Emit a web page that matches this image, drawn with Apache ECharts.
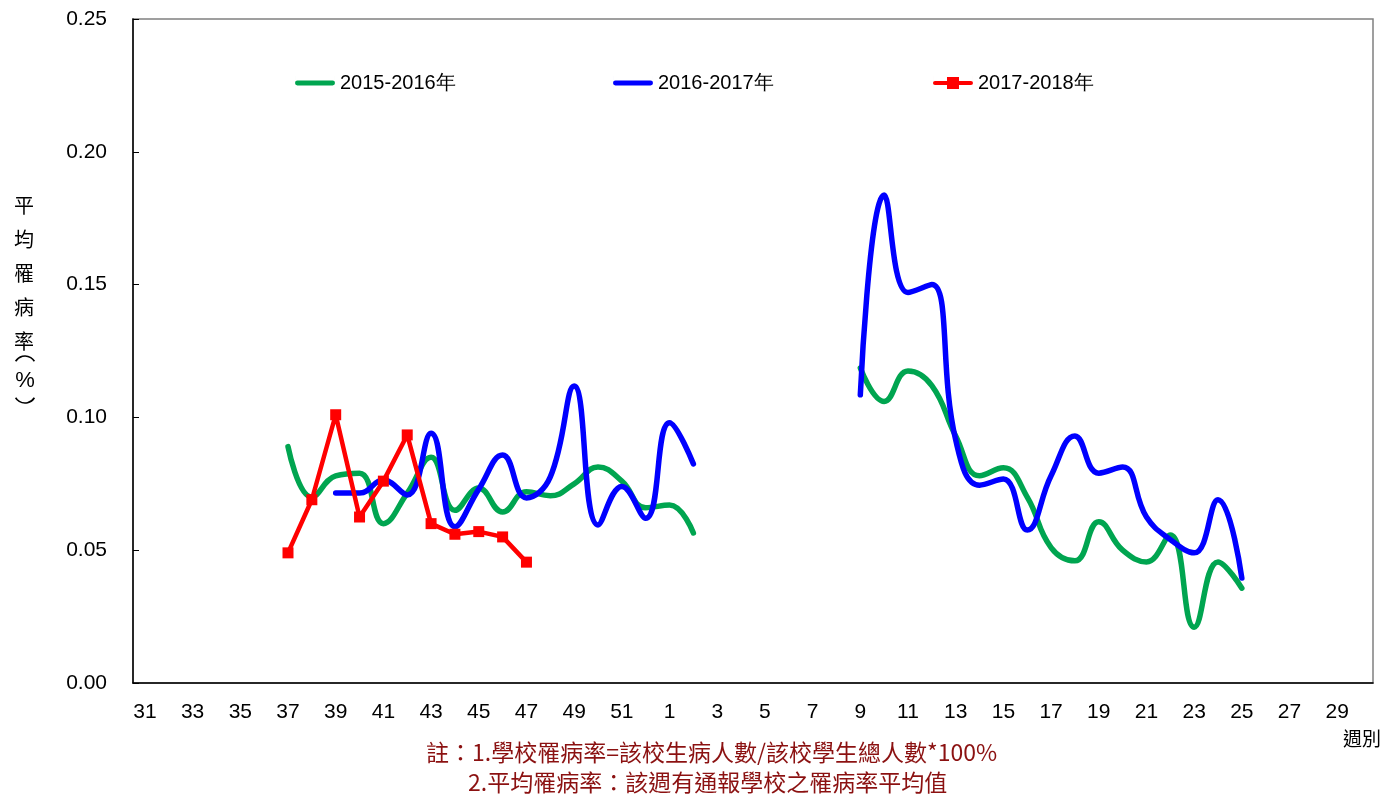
<!DOCTYPE html>
<html>
<head>
<meta charset="utf-8">
<script src="https://cdn.jsdelivr.net/npm/echarts@6/dist/echarts.min.js"></script>
<style>html,body{margin:0;padding:0;background:#fff;}#c{width:1384px;height:796px;}</style>
</head>
<body>
<div id="c"></div>
<script>
// Week categories: 31..52 then 1..30
const weeks = [31,32,33,34,35,36,37,38,39,40,41,42,43,44,45,46,47,48,49,50,51,52,
  1,2,3,4,5,6,7,8,9,10,11,12,13,14,15,16,17,18,19,20,21,22,23,24,25,26,27,28,29,30];
const yTicks = [0, 0.05, 0.10, 0.15, 0.20, 0.25];

// 2015-2016 (green): weeks 37..52,1,2 and weeks 9..25
const greenWeeksA = [37,38,39,40,41,42,43,44,45,46,47,48,49,50,51,52,1,2];
const greenValsA  = [0.089,0.070,0.078,0.079,0.060,0.0715,0.085,0.065,0.0734,0.0644,0.072,0.0705,0.075,0.0813,0.076,0.066,0.067,0.0565];
const greenWeeksB = [9,10,11,12,13,14,15,16,17,18,19,20,21,22,23,24,25];
const greenValsB  = [0.1186,0.106,0.1175,0.112,0.093,0.078,0.081,0.070,0.051,0.046,0.0607,0.050,0.0456,0.0557,0.021,0.0456,0.0357];

// 2016-2017 (blue): weeks 39..52,1,2 and weeks 9..25
const blueWeeksA = [39,40,41,42,43,44,45,46,47,48,49,50,51,52,1,2];
const blueValsA  = [0.0715,0.0715,0.0764,0.0708,0.094,0.0588,0.073,0.0858,0.0697,0.0776,0.1118,0.0595,0.074,0.062,0.098,0.0825];
const blueWeeksB = [9,10,11,12,13,14,15,16,17,18,19,20,21,22,23,24,25];
const blueValsB  = [0.1085,0.1837,0.147,0.150,0.0915,0.0745,0.0768,0.0576,0.078,0.093,0.079,0.0813,0.0625,0.054,0.049,0.069,0.0395];

// 2017-2018 (red): weeks 37..47
const redWeeks = [37,38,39,40,41,42,43,44,45,46,47];
const redVals  = [0.049,0.069,0.101,0.0625,0.076,0.0934,0.060,0.056,0.057,0.055,0.0455];

const seriesNames = ['2015-2016年','2016-2017年','2017-2018年'];

function build(parts){
  const arr = weeks.map(()=>null);
  parts.forEach(([ws, vs])=>{
    ws.forEach((w,i)=>{ arr[weeks.indexOf(w)] = vs[i]; });
  });
  return arr;
}
const greenData = build([[greenWeeksA,greenValsA],[greenWeeksB,greenValsB]]);
const blueData = build([[blueWeeksA,blueValsA],[blueWeeksB,blueValsB]]);
const redData = build([[redWeeks,redVals]]);

const chart = echarts.init(document.getElementById('c'), null, {renderer:'canvas'});
const font = 'Liberation Sans, Arial, sans-serif';
const cjk = '"Noto Sans CJK TC", "Noto Sans CJK SC", sans-serif';
const lineIcon = 'path://M2,5 H38 A2.5,2.5 0 0 1 38,10 H2 A2.5,2.5 0 0 1 2,5 Z M0,0 H0.01 V15 H0 Z M40,0 H40.01 V15 H40 Z';
const markIcon = 'path://M2,5.5 H38 A2,2 0 0 1 38,9.5 H2 A2,2 0 0 1 2,5.5 Z M14,1.5 H26 V13.5 H14 Z M0,0 H0.01 V15 H0 Z M40,0 H40.01 V15 H40 Z';
const legendCommon = {top: 68, itemWidth: 40, itemHeight: 15, itemGap: 3,
  textStyle: {fontSize: 20, color: '#000', fontFamily: font}};
chart.setOption({
  animation: false,
  backgroundColor: '#fff',
  grid: {left: 133, top: 19, right: 11, bottom: 113, show: true, borderColor: '#808080', borderWidth: 1.5},
  legend: [
    Object.assign({left: 290, data: [{name: seriesNames[0], icon: lineIcon}]}, legendCommon),
    Object.assign({left: 608, data: [{name: seriesNames[1], icon: lineIcon}]}, legendCommon),
    Object.assign({left: 928, data: [{name: seriesNames[2], icon: markIcon}]}, legendCommon)
  ],
  xAxis: {
    type: 'category', data: weeks.map(String), boundaryGap: true,
    axisLine: {lineStyle: {color: '#000', width: 1.5}},
    axisTick: {interval: 0, length: 6, lineStyle: {color: '#000'}},
    axisLabel: {interval: 1, fontSize: 21, color: '#000', fontFamily: font, margin: 19},
    splitLine: {show: false}
  },
  yAxis: {
    type: 'value', min: 0, max: 0.25, interval: 0.05,
    axisLine: {show: true, lineStyle: {color: '#000', width: 1.5}},
    axisTick: {show: true, inside: true, length: 6, lineStyle: {color: '#000'}},
    axisLabel: {fontSize: 21, color: '#000', fontFamily: font, margin: 26,
      formatter: v => v.toFixed(2)},
    splitLine: {show: false}
  },
  series: [
    {name: seriesNames[0], type: 'line', data: greenData, smooth: 0.45, connectNulls: false,
     showSymbol: false, symbol: 'none', lineStyle: {color: '#00A550', width: 5.5, cap: 'round'}, itemStyle: {color: '#00A550'}, z: 2},
    {name: seriesNames[1], type: 'line', data: blueData, smooth: 0.45, connectNulls: false,
     showSymbol: false, symbol: 'none', lineStyle: {color: '#0000FF', width: 5.5, cap: 'round'}, itemStyle: {color: '#0000FF'}, z: 3},
    {name: seriesNames[2], type: 'line', data: redData, smooth: false,
     symbol: 'rect', symbolSize: 11, lineStyle: {color: '#FF0000', width: 4.5}, itemStyle: {color: '#FF0000'}, z: 4}
  ],
  graphic: [
    {type: 'text', left: 14, top: 188, style: {text: '平\n均\n罹\n病\n率', font: '20px ' + cjk, lineHeight: 34, fill: '#000'}},
    {type: 'arc', shape: {cx: 25, cy: 367, r: 11, startAngle: Math.PI + 0.55, endAngle: 2*Math.PI - 0.55}, style: {stroke: '#000', lineWidth: 1.6, fill: null}},
    {type: 'text', x: 25, y: 381, style: {text: '%', font: '22px ' + font, fill: '#000', align: 'center', verticalAlign: 'middle'}},
    {type: 'arc', shape: {cx: 25, cy: 392, r: 11, startAngle: 0.55, endAngle: Math.PI - 0.55}, style: {stroke: '#000', lineWidth: 1.6, fill: null}},
    {type: 'text', right: 3, top: 729, style: {text: '週別', font: '19px ' + cjk, fill: '#000'}},
    {type: 'text', left: 426, top: 741, style: {text: '註：1.學校罹病率=該校生病人數/該校學生總人數*100%', font: '23px ' + cjk, fill: '#8B1111'}},
    {type: 'text', left: 468, top: 771, style: {text: '2.平均罹病率：該週有通報學校之罹病率平均值', font: '23px ' + cjk, fill: '#8B1111'}}
  ]
});
</script>
</body>
</html>
